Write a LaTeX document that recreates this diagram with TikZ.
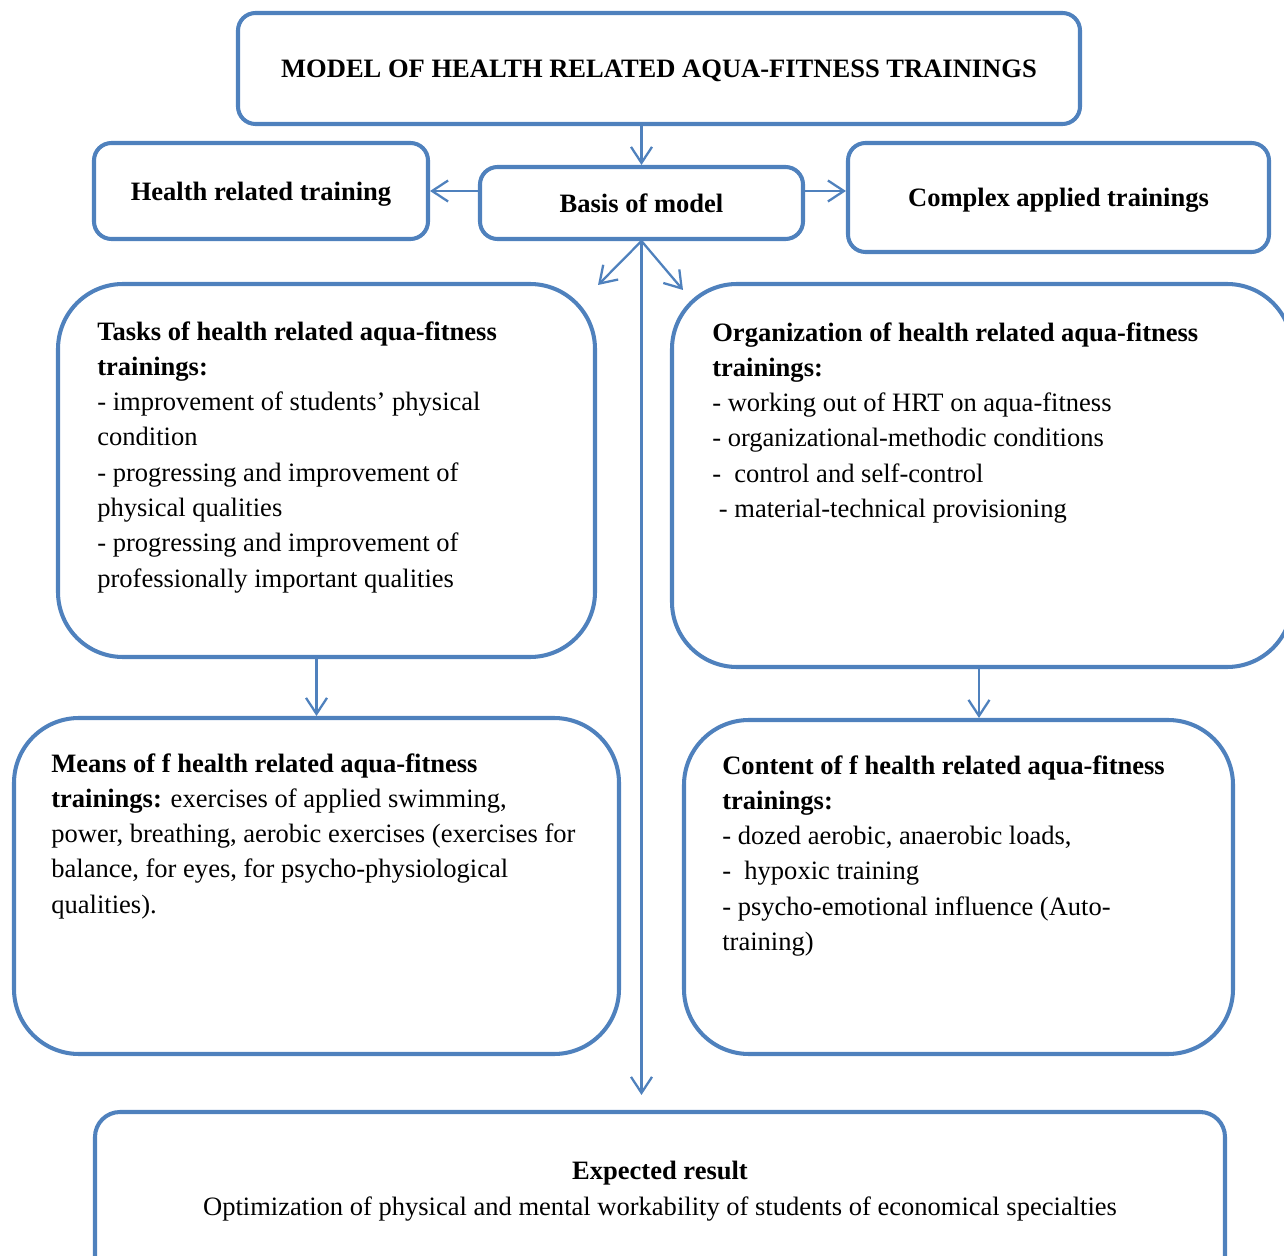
\documentclass[tikz,border=0pt]{standalone}
\usepackage{fontspec}
\setmainfont{Liberation Serif}
\usepackage{tikz}
\usetikzlibrary{arrows.meta, positioning}
\definecolor{aquablue}{HTML}{4F81BD}
\newcommand{\aquasize}{\fontsize{15.1}{20.1}\selectfont}
\tikzset{
  hdr/.style={rectangle, rounded corners=0.35cm, draw=aquablue, line width=2.3pt, font=\aquasize\bfseries, align=center, text depth=0pt},
  panel/.style={rectangle, rounded corners=1.3cm, draw=aquablue, line width=2.3pt},
  txt/.style={anchor=north west, inner sep=0pt, align=left, font=\aquasize},
  arr/.style={-{Straight Barb[length=3.2mm, width=4.2mm]}, line width=1.3pt, aquablue},
}

\begin{document}
\begin{tikzpicture}
\useasboundingbox (0,0) rectangle (25.68,-25.12);
\clip (0,0) rectangle (25.68,-25.12);
\node[hdr, minimum width=16.84cm, minimum height=2.22cm] (title) at (13.18,-1.37) {MODEL OF HEALTH RELATED AQUA-FITNESS TRAININGS};
\node[hdr, minimum width=6.68cm, minimum height=1.92cm] (health) at (5.22,-3.82) {Health related training};
\node[hdr, minimum width=6.46cm, minimum height=1.44cm] (basis) at (12.83,-4.06) {Basis of model};
\node[hdr, minimum width=8.42cm, minimum height=2.18cm] (complex) at (21.17,-3.95) {Complex applied trainings};
\node[panel, minimum width=10.74cm, minimum height=7.46cm] (tasks) at (6.53,-9.41) {};
\node[panel, minimum width=12.4cm, minimum height=7.66cm] (org) at (19.64,-9.51) {};
\node[panel, minimum width=12.1cm, minimum height=6.72cm] (means) at (6.33,-17.72) {};
\node[panel, minimum width=10.98cm, minimum height=6.68cm] (content) at (19.17,-17.74) {};
\node[panel, rounded corners=0.5cm, minimum width=22.6cm, minimum height=3.56cm] (exp) at (13.2,-24.02) {};
\node[txt] (taskstxt) at ([xshift=0.82cm, yshift=-0.78cm]tasks.north west) {\textbf{Tasks of health related aqua-fitness}\\ \textbf{trainings:}\\ - improvement of students’ physical\\ condition\\ - progressing and improvement of\\ physical qualities\\ - progressing and improvement of\\ professionally important qualities};
\node[txt] (orgtxt) at ([xshift=0.84cm, yshift=-0.8cm]org.north west) {\textbf{Organization of health related aqua-fitness}\\ \textbf{trainings:}\\ - working out of HRT on aqua-fitness\\ - organizational-methodic conditions\\ -\ \ control and self-control\\ \ - material-technical provisioning};
\node[txt] (meanstxt) at ([xshift=0.78cm, yshift=-0.74cm]means.north west) {\textbf{Means of f health related aqua-fitness}\\ \textbf{trainings:} exercises of applied swimming,\\ power, breathing, aerobic exercises (exercises for\\ balance, for eyes, for psycho-physiological\\ qualities).};
\node[txt] (contenttxt) at ([xshift=0.8cm, yshift=-0.74cm]content.north west) {\textbf{Content of f health related aqua-fitness}\\ \textbf{trainings:}\\ - dozed aerobic, anaerobic loads,\\ -\ \ hypoxic training\\ - psycho-emotional influence (Auto-\\ training)};
\node[anchor=north, inner sep=0pt, align=center, font=\aquasize] (exptxt) at ([yshift=-1.02cm]exp.north) {\textbf{Expected result}\\ Optimization of physical and mental workability of students of economical specialties};
\coordinate (tl) at (11.96,-5.7);
\coordinate (tr) at (13.66,-5.8);
\draw[arr] (title.south -| basis) -- (basis);
\draw[arr] (basis.west |- health) -- (health);
\draw[arr] (basis.east |- health) -- (complex.west |- health);
\draw[arr] (basis.south) -- (tl);
\draw[arr] (basis.south) -- (tr);
\draw[arr, shorten >=0.3cm] (basis.south) -- (basis.south |- exp.north);
\draw[arr] (tasks.south -| means) -- (means.north);
\draw[arr] ([xshift=-0.06cm]org.south) -- ([xshift=-0.06cm]org.south |- content.north);
\end{tikzpicture}
\end{document}
